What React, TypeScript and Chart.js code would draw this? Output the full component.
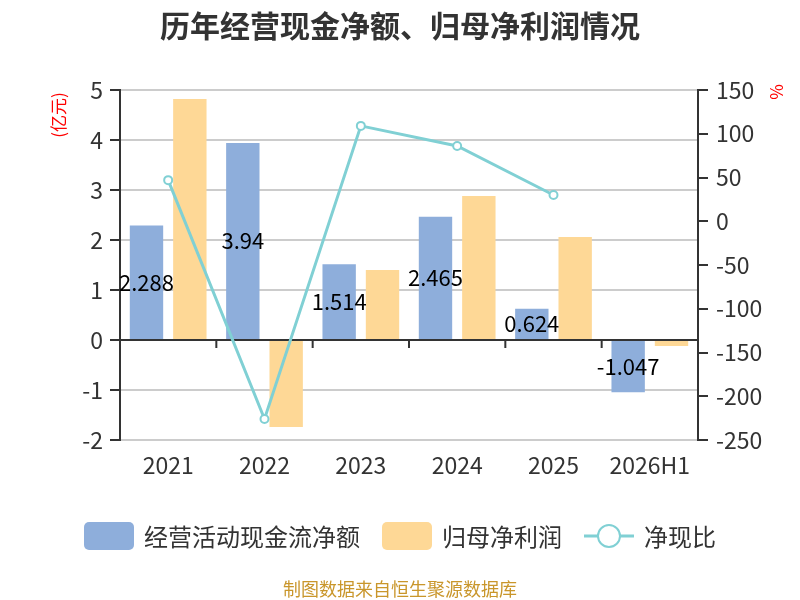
import React, { useEffect, useRef } from "react";
import { Chart, registerables } from "chart.js";

Chart.register(...registerables);

const FONT = '"Noto Sans CJK SC", "Noto Sans", sans-serif';

const years = ["2021", "2022", "2023", "2024", "2025", "2026H1"];
const cashFlow = [2.288, 3.94, 1.514, 2.465, 0.624, -1.047];
const netProfit = [4.82, -1.74, 1.4, 2.88, 2.06, -0.12];
const cashRatio = [47, -226, 109, 86, 30, null];

const leftRange = { min: -2, max: 5, step: 1 };
const rightRange = { min: -250, max: 150, step: 50 };

const BLUE = "#8eaedb";
const ORANGE = "#fed896";
const TEAL = "#80d0d4";
const INK = "#333333";

// value labels on the blue bars
const barLabels = {
  id: "barLabels",
  afterDatasetsDraw(chart: Chart) {
    const ctx = chart.ctx;
    const meta = chart.getDatasetMeta(0);
    ctx.save();
    ctx.font = `22px ${FONT}`;
    ctx.fillStyle = "#000";
    ctx.textAlign = "center";
    ctx.textBaseline = "middle";
    meta.data.forEach((bar: any, i) => {
      const { x, y, base } = bar.getProps(["x", "y", "base"], true);
      ctx.fillText(String(cashFlow[i]), x, (y + base) / 2);
    });
    ctx.restore();
  },
};

// axis names, zero-line ticks, legend and source note
const decorations = {
  id: "decorations",
  afterDraw(chart: Chart) {
    const ctx = chart.ctx;
    const { left, right } = chart.chartArea;
    const xs = chart.scales.x;
    const zeroY = chart.scales.y.getPixelForValue(0);

    ctx.save();
    // category boundary ticks on zero line
    ctx.strokeStyle = INK;
    ctx.lineWidth = 2;
    ctx.beginPath();
    for (let i = 1; i < years.length; i++) {
      const bx = (xs.getPixelForValue(i - 1) + xs.getPixelForValue(i)) / 2;
      ctx.moveTo(bx, zeroY);
      ctx.lineTo(bx, zeroY + 8);
    }
    ctx.stroke();

    // axis names
    ctx.fillStyle = "#ff0000";
    ctx.font = `17px ${FONT}`;
    ctx.textAlign = "center";
    ctx.textBaseline = "middle";
    ctx.save();
    ctx.translate(left - 61, 115);
    ctx.rotate(-Math.PI / 2);
    ctx.fillText("(亿元)", 0, 0);
    ctx.restore();
    ctx.save();
    ctx.translate(right + 79, 92);
    ctx.rotate(-Math.PI / 2);
    ctx.fillText("%", 0, 0);
    ctx.restore();

    // legend
    const datasets = chart.data.datasets as any[];
    ctx.font = `24px ${FONT}`;
    const iconW = 50;
    const gap = 22;
    const widths = datasets.map((d) => iconW + 10 + ctx.measureText(d.label).width);
    const total = widths.reduce((a, b) => a + b, 0) + gap * (widths.length - 1);
    let lx = (chart.width - total) / 2;
    const cy = 536;
    datasets.forEach((d, i) => {
      if (d.type === "line") {
        ctx.strokeStyle = d.borderColor;
        ctx.lineWidth = 3;
        ctx.beginPath();
        ctx.moveTo(lx, cy);
        ctx.lineTo(lx + iconW, cy);
        ctx.stroke();
        ctx.beginPath();
        ctx.arc(lx + iconW / 2, cy, 11, 0, Math.PI * 2);
        ctx.fillStyle = "#fff";
        ctx.fill();
        ctx.lineWidth = 2;
        ctx.stroke();
      } else {
        ctx.fillStyle = d.backgroundColor;
        ctx.beginPath();
        ctx.roundRect(lx, cy - 14, iconW, 28, 5);
        ctx.fill();
      }
      ctx.fillStyle = INK;
      ctx.textAlign = "left";
      ctx.fillText(d.label, lx + iconW + 10, cy + 1);
      lx += widths[i] + gap;
    });

    // source
    ctx.font = `18px ${FONT}`;
    ctx.fillStyle = "#c9962b";
    ctx.textAlign = "center";
    ctx.fillText("制图数据来自恒生聚源数据库", chart.width / 2, 589);
    ctx.restore();
  },
};

export default function App() {
  const canvasRef = useRef<HTMLCanvasElement>(null);

  useEffect(() => {
    document.body.style.margin = "0";
    if (!canvasRef.current) return;

    const chart = new Chart(canvasRef.current, {
      type: "bar",
      data: {
        labels: years,
        datasets: [
          {
            type: "bar",
            label: "经营活动现金流净额",
            data: cashFlow,
            backgroundColor: BLUE,
            yAxisID: "y",
            order: 1,
            categoryPercentage: 0.9,
            barPercentage: 0.77,
          },
          {
            type: "bar",
            label: "归母净利润",
            data: netProfit,
            backgroundColor: ORANGE,
            yAxisID: "y",
            order: 1,
            categoryPercentage: 0.9,
            barPercentage: 0.77,
          },
          {
            type: "line",
            label: "净现比",
            data: cashRatio,
            borderColor: TEAL,
            backgroundColor: TEAL,
            borderWidth: 3,
            pointRadius: 4,
            pointBorderWidth: 2,
            pointBackgroundColor: "#fff",
            pointBorderColor: TEAL,
            yAxisID: "y1",
            order: 0,
          },
        ] as any,
      },
      options: {
        responsive: false,
        animation: false,
        layout: { padding: 0 },
        plugins: {
          legend: { display: false },
          tooltip: { enabled: false },
          title: {
            display: true,
            text: "历年经营现金净额、归母净利润情况",
            color: INK,
            font: { size: 30, weight: "bold", family: FONT },
            padding: { top: 8, bottom: 46 },
          },
        },
        scales: {
          x: {
            grid: { display: false, drawTicks: false },
            border: { display: false },
            ticks: { color: INK, font: { size: 23, family: FONT }, padding: 11 },
            afterFit: (s: any) => {
              s.height = 160;
            },
          },
          y: {
            position: "left",
            min: leftRange.min,
            max: leftRange.max,
            ticks: { stepSize: leftRange.step, color: INK, font: { size: 23, family: FONT }, padding: 7 },
            grid: {
              color: (c: any) => (c.tick && c.tick.value === 0 ? INK : "#cccccc"),
              lineWidth: 2,
              tickLength: 10,
              tickColor: INK,
            },
            border: { color: INK, width: 2 },
            afterFit: (s: any) => {
              s.width = 120;
            },
          },
          y1: {
            position: "right",
            min: rightRange.min,
            max: rightRange.max,
            ticks: { stepSize: rightRange.step, color: INK, font: { size: 23, family: FONT }, padding: 8 },
            grid: { drawOnChartArea: false, lineWidth: 2, tickLength: 10, tickColor: INK },
            border: { color: INK, width: 2 },
            afterFit: (s: any) => {
              s.width = 102;
            },
          },
        },
      },
      plugins: [barLabels, decorations],
    });

    return () => {
      chart.destroy();
    };
  }, []);

  return (
    <div style={{ width: 800, height: 600 }}>
      <canvas ref={canvasRef} width={800} height={600} />
    </div>
  );
}
